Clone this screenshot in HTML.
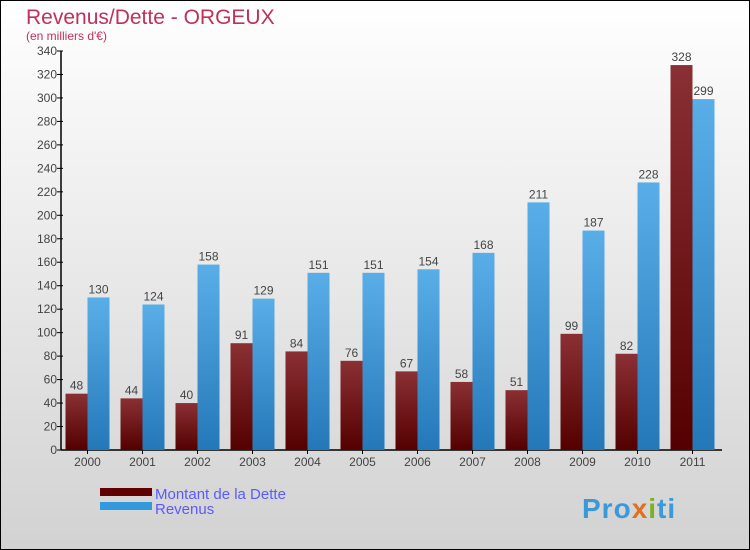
<!DOCTYPE html>
<html><head><meta charset="utf-8"><style>
body{margin:0}
#c{width:750px;height:550px;position:relative;overflow:hidden}
text{font-family:"Liberation Sans",sans-serif}
</style></head><body>
<div id="c">
<svg id="s" width="750" height="550" xmlns="http://www.w3.org/2000/svg">
<defs>
<linearGradient id="bg" x1="0" y1="0" x2="0" y2="1"><stop offset="0" stop-color="#ffffff"/><stop offset="1" stop-color="#d2d2d2"/></linearGradient>
<linearGradient id="gd" x1="0" y1="0" x2="0" y2="1"><stop offset="0" stop-color="#8a3034"/><stop offset="1" stop-color="#540000"/></linearGradient>
<linearGradient id="gr" x1="0" y1="0" x2="0" y2="1"><stop offset="0" stop-color="#5aaee8"/><stop offset="1" stop-color="#2478b8"/></linearGradient>
</defs>
<rect x="0.5" y="0.5" width="749" height="549" fill="url(#bg)" stroke="#000"/>
<text x="26" y="24" font-size="21" fill="#c0305a">Revenus/Dette - ORGEUX</text>
<text x="26" y="40" font-size="12" fill="#c0305a">(en milliers d'€)</text>
<g id="plot"></g>
<rect x="100" y="488" width="52" height="8" fill="#600000"/>
<rect x="100" y="502" width="52" height="8" fill="#3399dd"/>
<text x="155" y="499" font-size="15" fill="#5a5aff">Montant de la Dette</text>
<text x="155" y="514" font-size="15" fill="#5a5aff">Revenus</text>
<text x="582" y="518" font-size="28" font-weight="bold" letter-spacing="1" fill="#3a9ad9">Pro<tspan fill="#e07020">x</tspan><tspan fill="#80b020">i</tspan>ti</text>
</svg>
</div>
<script>
const years=["2000","2001","2002","2003","2004","2005","2006","2007","2008","2009","2010","2011"];
const dette=[48,44,40,91,84,76,67,58,51,99,82,328];
const revenus=[130,124,158,129,151,151,154,168,211,187,228,299];
const ticks=[0,20,40,60,80,100,120,140,160,180,200,220,240,260,280,300,320,340];
const NS="http://www.w3.org/2000/svg";
const g=document.getElementById('plot');
const x0=61,x1=722,y0=450,y1=51,vmax=340;
const gw=55;
function y(v){return y0-(v/vmax)*(y0-y1);}
function gx(i){return 60+i*gw;}
function el(t,a,txt){const e=document.createElementNS(NS,t);for(const k in a)e.setAttribute(k,a[k]);if(txt!==undefined)e.textContent=txt;g.appendChild(e);return e;}
let e=el('line',{x1:x0,y1:y0,x2:x1,y2:y0,stroke:'#000','stroke-width':1.5});


e=el('line',{x1:x0,y1:y0,x2:x0,y2:y1,stroke:'#000','stroke-width':1.5});


ticks.forEach(t=>{
 let l=el('line',{x1:x0-4,y1:y(t),x2:x0+2,y2:y(t),stroke:'#000'});
 
 
 let tx=el('text',{x:x0-4,y:y(t)+4,'font-size':12,fill:'#444','text-anchor':'end'},t);
 
 
});
years.forEach((yr,i)=>{
 const c=gx(i)+gw/2;
 let l=el('line',{x1:c,y1:y0,x2:c,y2:y0+4,stroke:'#000'});
 
 
 let tx=el('text',{x:c,y:y0+16,'font-size':12,fill:'#444','text-anchor':'middle'},yr);
 
 
 const bw=22;
 let b=el('rect',{x:c-bw,y:y(dette[i]),width:bw,height:y0-y(dette[i]),fill:'url(#gd)'});
 
 
 let b2=el('rect',{x:c,y:y(revenus[i]),width:bw,height:y0-y(revenus[i]),fill:'url(#gr)'});
 
 
 let v1=el('text',{x:c-bw/2,y:y(dette[i])-4,'font-size':12,fill:'#444','text-anchor':'middle'},dette[i]);
 
 
 let v2=el('text',{x:c+bw/2,y:y(revenus[i])-4,'font-size':12,fill:'#444','text-anchor':'middle'},revenus[i]);
 
 
});
</script>
</body></html>
